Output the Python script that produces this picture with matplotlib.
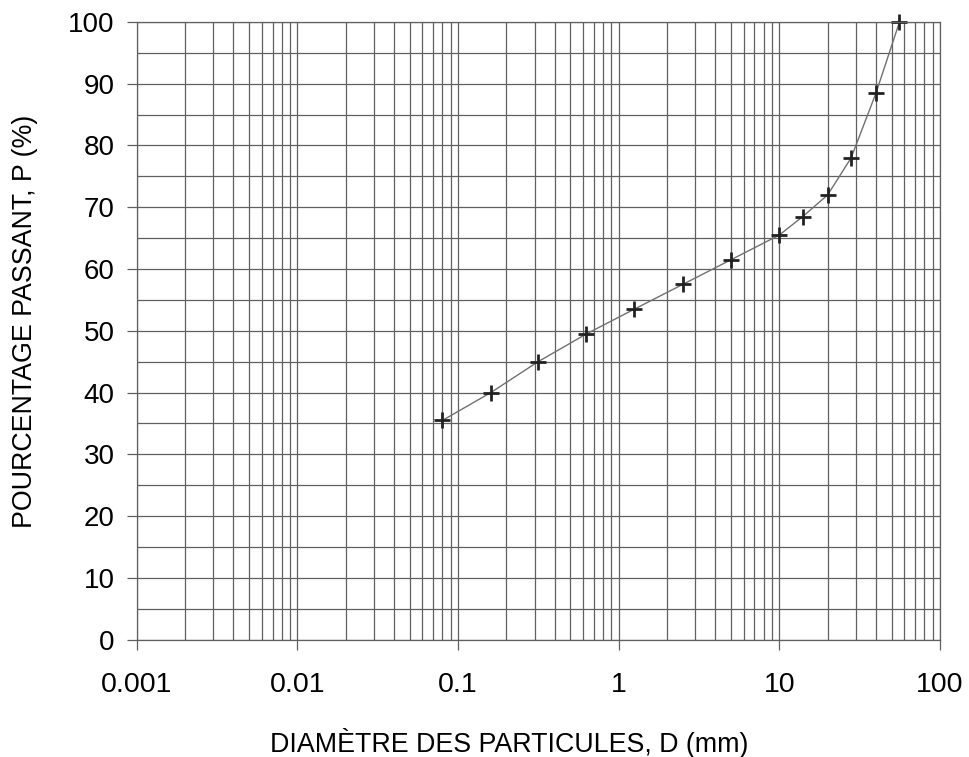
import numpy as np
import matplotlib.pyplot as plt
from matplotlib.ticker import FixedLocator, LogLocator, NullFormatter

plt.rcParams['font.family'] = ['Liberation Sans', 'DejaVu Sans']

# Grain size distribution
diametre = [0.08, 0.16, 0.315, 0.63, 1.25, 2.5, 5, 10, 14, 20, 28, 40, 56]
passant = [35.5, 40, 45, 49.5, 53.5, 57.5, 61.5, 65.5, 68.5, 72, 78, 88.5, 100]
x_ticks = [0.001, 0.01, 0.1, 1, 10, 100]
x_labels = ['0.001', '0.01', '0.1', '1', '10', '100']

fig = plt.figure(figsize=(9.7, 7.57), dpi=100)
ax = fig.add_axes([0.141, 0.155, 0.828, 0.816])

ax.set_xscale('log')
ax.set_xlim(0.001, 100)
ax.set_ylim(0, 100)

ax.set_xticks(x_ticks)
ax.set_xticklabels(x_labels)
ax.xaxis.set_minor_locator(LogLocator(base=10, subs=np.arange(2, 10)))
ax.xaxis.set_minor_formatter(NullFormatter())
ax.set_yticks(np.arange(0, 101, 10))
ax.yaxis.set_minor_locator(FixedLocator(np.arange(5, 100, 10)))

ax.grid(True, which='both', color='#606060', lw=0.9)
ax.set_axisbelow(True)
ax.tick_params(which='major', length=7, width=0.9, color='#606060', labelsize=20)
ax.tick_params(axis='y', which='major', pad=9)
ax.tick_params(axis='x', which='major', labelsize=20.5, pad=16)
ax.tick_params(which='minor', length=0)
for s in ax.spines.values():
    s.set_color('#606060')
    s.set_linewidth(0.9)

ax.plot(diametre, passant, color='#707070', lw=1.0, clip_on=False)
ax.plot(diametre, passant, ls='none', marker='+', ms=11, mew=2, color='#222222', clip_on=False)

# axis titles placed like the original sheet (slightly off-centre)
fig.text(0.525, 0.019, 'DIAMÈTRE DES PARTICULES, D (mm)', fontsize=19.3,
         ha='center', va='center')
fig.text(0.026, 0.575, 'POURCENTAGE PASSANT, P (%)', fontsize=19.3,
         rotation=90, ha='center', va='center')

fig.savefig('out.png', dpi=100)
